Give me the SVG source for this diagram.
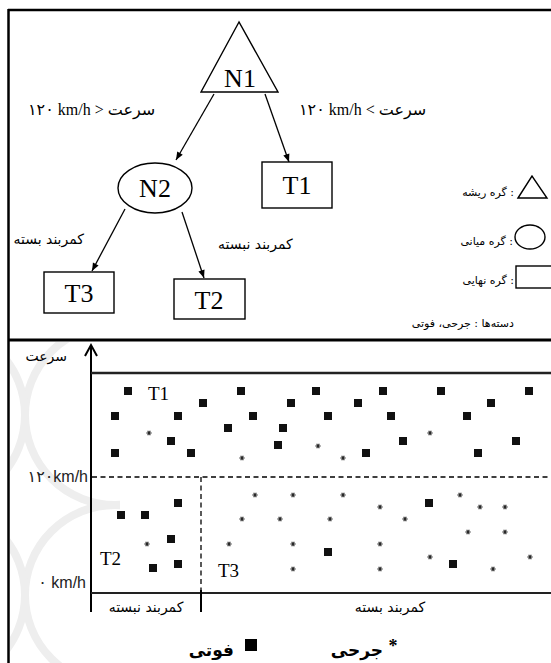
<svg xmlns="http://www.w3.org/2000/svg" xmlns:xlink="http://www.w3.org/1999/xlink" width="551" height="663" viewBox="0 0 551 663">
<style>
.ln{stroke:#000;stroke-width:1.3;fill:none}
.node{stroke:#000;stroke-width:1.4;fill:#fff}
.lbl{font-family:"Liberation Serif","DejaVu Sans",serif;font-size:26px;fill:#000;text-anchor:middle}
.edge{font-family:"Liberation Serif","DejaVu Sans",serif;font-size:16px;fill:#000}
.fa{font-family:"DejaVu Sans",serif;font-size:14px;fill:#000}
.leg{font-family:"DejaVu Sans",serif;font-size:11px;fill:#000;text-anchor:end}
.ax{font-family:"Liberation Sans","DejaVu Sans",sans-serif;font-size:16px;fill:#222;text-anchor:end}
.tl{font-family:"Liberation Serif",serif;font-size:19px;fill:#000}
.big{font-family:"DejaVu Sans",serif;font-size:17px;font-weight:bold;fill:#000}
.dash{stroke:#000;stroke-width:1.3;stroke-dasharray:5 3.5;fill:none}
.wm{stroke:#eeeeee;stroke-width:8;fill:none}
</style>
<defs>
<marker id="ah" viewBox="0 0 10 10" refX="10" refY="5" markerWidth="10" markerHeight="8" markerUnits="userSpaceOnUse" orient="auto">
<path d="M0,1 L10,5 L0,9 Z" fill="#000"/>
</marker>
<rect id="sq" x="-4" y="-4" width="8" height="8" fill="#111"/>
<g id="ast" stroke="#222" stroke-width="1.1">
<line x1="-2.6" y1="0" x2="2.6" y2="0"/>
<line x1="-1.3" y1="-2.25" x2="1.3" y2="2.25"/>
<line x1="-1.3" y1="2.25" x2="1.3" y2="-2.25"/>
</g>
<clipPath id="wmclip"><rect x="10" y="342" width="110" height="321"/></clipPath>
</defs>
<rect width="551" height="663" fill="#fff"/>
<g id="watermark" clip-path="url(#wmclip)">
<circle class="wm" cx="115" cy="415" r="90"/>
<circle class="wm" cx="115" cy="595" r="90"/>
<circle class="wm" cx="-65" cy="415" r="90"/>
<circle class="wm" cx="-65" cy="595" r="90"/>
</g>
<g id="frame">
<line x1="8" y1="10" x2="551" y2="10" stroke="#000" stroke-width="2.5"/>
<line x1="8.5" y1="9" x2="8.5" y2="663" stroke="#000" stroke-width="2.5"/>
<line x1="8" y1="340" x2="551" y2="340" stroke="#000" stroke-width="3"/>
</g>
<g id="connectors">
<line class="ln" x1="214" y1="94" x2="176" y2="160" marker-end="url(#ah)"/>
<line class="ln" x1="265" y1="94" x2="289" y2="162" marker-end="url(#ah)"/>
<line class="ln" x1="125" y1="209" x2="92" y2="271" marker-end="url(#ah)"/>
<line class="ln" x1="182" y1="212" x2="204" y2="278" marker-end="url(#ah)"/>
</g>
<g id="edge-labels">
<text class="edge" x="28" y="115">۱۲۰ km/h &gt; سرعت</text>
<text class="edge" x="299" y="115">۱۲۰ km/h &lt; سرعت</text>
<text class="fa" x="84" y="244" text-anchor="end">کمربند بسته</text>
<text class="fa" x="218" y="249">کمربند نبسته</text>
</g>
<g id="N1">
<polygon class="node" points="239,22 201,92 278,92"/>
<text class="lbl" x="240" y="87">N1</text>
</g>
<g id="N2">
<ellipse class="node" cx="155" cy="188" rx="37" ry="25"/>
<text class="lbl" x="155" y="197">N2</text>
</g>
<g id="T1">
<rect class="node" x="262" y="162" width="70" height="46"/>
<text class="lbl" x="297" y="194">T1</text>
</g>
<g id="T3">
<rect class="node" x="44" y="272" width="70" height="41"/>
<text class="lbl" x="79" y="302">T3</text>
</g>
<g id="T2">
<rect class="node" x="174" y="279" width="71" height="40"/>
<text class="lbl" x="209" y="309">T2</text>
</g>
<g id="legend">
<polygon class="node" points="518,198 532,176 547,198" stroke-width="1.2"/>
<text class="leg" x="514" y="196">گره ریشه :</text>
<ellipse class="node" cx="530" cy="237" rx="15" ry="12" stroke-width="1.2"/>
<text class="leg" x="513" y="245">گره میانی :</text>
<rect class="node" x="516" y="266" width="40" height="22" stroke-width="1.2"/>
<text class="leg" x="514" y="284">گره نهایی :</text>
<text class="leg" x="514" y="327" font-size="9.5">دسته‌ها : جرحی، فوتی</text>
</g>
<g id="chart">
<line x1="91" y1="345" x2="91" y2="612" stroke="#000" stroke-width="2"/>
<polyline points="85,356 91,345 97,356" fill="none" stroke="#000" stroke-width="2"/>
<line x1="91" y1="373" x2="551" y2="373" stroke="#222" stroke-width="2.5"/>
<line class="dash" x1="92" y1="477" x2="551" y2="477"/>
<line class="dash" x1="201" y1="477" x2="201" y2="593"/>
<line x1="91" y1="593" x2="551" y2="593" stroke="#222" stroke-width="2"/>
<line x1="201" y1="590" x2="201" y2="612" stroke="#000" stroke-width="2"/>
<text class="fa" x="67" y="361" text-anchor="end" font-size="19">سرعت</text>
<text class="ax" x="88" y="482">۱۲۰km/h</text>
<text class="ax" x="86" y="588">۰ km/h</text>
<text class="tl" x="148" y="400">T1</text>
<text class="tl" x="100" y="565">T2</text>
<text class="tl" x="218" y="577">T3</text>
<text class="fa" x="146" y="612" text-anchor="middle" font-size="11" fill="#333">کمربند نبسته</text>
<text class="fa" x="390" y="612" text-anchor="middle" font-size="11" fill="#333">کمربند بسته</text>
</g>
<g id="fatal-points">
<use xlink:href="#sq" x="128" y="391"/><use xlink:href="#sq" x="115" y="416"/><use xlink:href="#sq" x="178" y="416"/>
<use xlink:href="#sq" x="203" y="403"/><use xlink:href="#sq" x="241" y="391"/><use xlink:href="#sq" x="253" y="416"/>
<use xlink:href="#sq" x="228" y="428"/><use xlink:href="#sq" x="171" y="441"/><use xlink:href="#sq" x="115" y="453"/>
<use xlink:href="#sq" x="191" y="453"/><use xlink:href="#sq" x="316" y="391"/><use xlink:href="#sq" x="291" y="403"/>
<use xlink:href="#sq" x="328" y="416"/><use xlink:href="#sq" x="283" y="428"/><use xlink:href="#sq" x="278" y="445"/>
<use xlink:href="#sq" x="366" y="453"/><use xlink:href="#sq" x="358" y="403"/><use xlink:href="#sq" x="383" y="391"/>
<use xlink:href="#sq" x="391" y="416"/><use xlink:href="#sq" x="403" y="441"/><use xlink:href="#sq" x="441" y="391"/>
<use xlink:href="#sq" x="467" y="416"/><use xlink:href="#sq" x="491" y="403"/><use xlink:href="#sq" x="478" y="453"/>
<use xlink:href="#sq" x="516" y="441"/><use xlink:href="#sq" x="529" y="391"/>
<use xlink:href="#sq" x="178" y="503"/><use xlink:href="#sq" x="121" y="515"/><use xlink:href="#sq" x="145" y="515"/>
<use xlink:href="#sq" x="171" y="539"/><use xlink:href="#sq" x="153" y="568"/><use xlink:href="#sq" x="178" y="564"/>
<use xlink:href="#sq" x="429" y="503"/><use xlink:href="#sq" x="328" y="552"/><use xlink:href="#sq" x="453" y="564"/>
</g>
<g id="injury-points">
<use xlink:href="#ast" x="149" y="433"/><use xlink:href="#ast" x="242" y="458"/><use xlink:href="#ast" x="318" y="446"/>
<use xlink:href="#ast" x="343" y="458"/><use xlink:href="#ast" x="430" y="433"/><use xlink:href="#ast" x="147" y="544"/>
<use xlink:href="#ast" x="255" y="495"/><use xlink:href="#ast" x="242" y="519"/><use xlink:href="#ast" x="280" y="519"/>
<use xlink:href="#ast" x="229" y="544"/><use xlink:href="#ast" x="293" y="495"/><use xlink:href="#ast" x="343" y="495"/>
<use xlink:href="#ast" x="380" y="507"/><use xlink:href="#ast" x="460" y="495"/><use xlink:href="#ast" x="480" y="507"/>
<use xlink:href="#ast" x="505" y="507"/><use xlink:href="#ast" x="330" y="519"/><use xlink:href="#ast" x="405" y="519"/>
<use xlink:href="#ast" x="468" y="532"/><use xlink:href="#ast" x="505" y="532"/><use xlink:href="#ast" x="293" y="544"/>
<use xlink:href="#ast" x="380" y="544"/><use xlink:href="#ast" x="430" y="557"/><use xlink:href="#ast" x="530" y="557"/>
<use xlink:href="#ast" x="293" y="569"/><use xlink:href="#ast" x="380" y="569"/><use xlink:href="#ast" x="493" y="569"/>
</g>
<g id="bottom-legend">
<text class="big" x="234" y="656" text-anchor="end">فوتی</text>
<rect x="245" y="639" width="12" height="12" fill="#000"/>
<text class="big" x="383" y="656" text-anchor="end">جرحی</text>
<text x="393" y="652" font-family="Liberation Serif,serif" font-size="18" font-weight="bold" text-anchor="middle">*</text>
</g>
</svg>
